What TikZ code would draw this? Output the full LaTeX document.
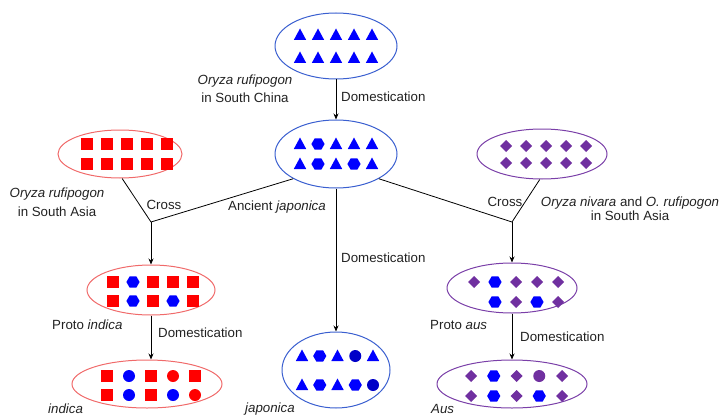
\documentclass[tikz,border=0pt]{standalone}
\usepackage{fontspec}
\setmainfont{Liberation Sans}
\usetikzlibrary{shapes.geometric,arrows.meta}
\definecolor{sblue}{HTML}{0000FF}
\definecolor{sdblue}{HTML}{0000C8}
\definecolor{sred}{HTML}{FF0000}
\definecolor{spurp}{HTML}{7030A0}
\definecolor{eblue}{HTML}{3A5FD0}
\definecolor{ered}{HTML}{F06A6A}
\definecolor{epurp}{HTML}{7A3FA8}
\definecolor{txt}{HTML}{222222}
\newcommand\symrow[4]{\foreach \t/\c [count=\i from 0] in {#4} {\pic[color=\c] at ({#1+#2*\i},#3) {\t};}}
\begin{document}
\begin{tikzpicture}[x=1pt,y=-1pt,
  ell/.style={draw=#1, ellipse, line width=1pt, inner sep=0pt},
  arr/.style={-{Stealth[length=6pt,width=5pt]}, line width=0.8pt},
  lin/.style={line width=0.8pt},
  lab/.style={font=\fontsize{13.3}{15}\selectfont, text=txt, inner sep=0pt},
  tri/.pic={\fill (0,-6.5) -- (6.2,5) -- (-6.2,5) -- cycle;},
  hex/.pic={\fill (0:6.6) -- (60:6.6) -- (120:6.6) -- (180:6.6) -- (240:6.6) -- (300:6.6) -- cycle;},
  sq/.pic={\fill (-6,-6) rectangle (6,6);},
  dia/.pic={\fill (0,-6) -- (6,0) -- (0,6) -- (-6,0) -- cycle;},
  circ/.pic={\fill (0,0) circle (6);},
  none/.pic={}]
\useasboundingbox (0,0) rectangle (722,417);

% ellipses
\node[ell=eblue, minimum width=122pt, minimum height=66pt] (wild) at (336,46) {};
\node[ell=eblue, minimum width=122pt, minimum height=68pt] (anc) at (336,154) {};
\node[ell=ered, minimum width=124pt, minimum height=48pt] (rsa) at (120,154) {};
\node[ell=epurp, minimum width=130pt, minimum height=50pt] (nsa) at (542,154) {};
\node[ell=ered, minimum width=128pt, minimum height=50pt] (pind) at (151,290) {};
\node[ell=epurp, minimum width=130pt, minimum height=50pt] (paus) at (512,288) {};
\node[ell=ered, minimum width=150pt, minimum height=48pt] (ind) at (147,384) {};
\node[ell=eblue, minimum width=108pt, minimum height=76pt] (jap) at (336,370) {};
\node[ell=epurp, minimum width=150pt, minimum height=48pt] (aus) at (512,384) {};

% symbols
\symrow{300}{18}{35}{tri/sblue,tri/sblue,tri/sblue,tri/sblue,tri/sblue}
\symrow{300}{18}{58}{tri/sblue,tri/sblue,tri/sblue,tri/sblue,tri/sblue}
\symrow{300}{18}{144}{tri/sblue,hex/sblue,tri/sblue,tri/sblue,tri/sblue}
\symrow{300}{18}{164}{tri/sblue,hex/sblue,tri/sblue,hex/sblue,tri/sblue}
\symrow{87}{20}{144}{sq/sred,sq/sred,sq/sred,sq/sred,sq/sred}
\symrow{87}{20}{164}{sq/sred,sq/sred,sq/sred,sq/sred,sq/sred}
\symrow{506}{20}{146}{dia/spurp,dia/spurp,dia/spurp,dia/spurp,dia/spurp}
\symrow{506}{20}{163}{dia/spurp,dia/spurp,dia/spurp,dia/spurp,dia/spurp}
\symrow{113}{20}{282}{sq/sred,hex/sblue,sq/sred,sq/sred,sq/sred}
\symrow{113}{20}{301}{sq/sred,hex/sblue,sq/sred,hex/sblue,sq/sred}
\symrow{474}{21}{282}{dia/spurp,hex/sblue,dia/spurp,dia/spurp,dia/spurp}
\symrow{474}{21}{302}{none/sblue,hex/sblue,dia/spurp,hex/sblue,dia/spurp}
\symrow{107}{22}{376}{sq/sred,circ/sblue,sq/sred,circ/sred,sq/sred}
\symrow{107}{22}{395}{sq/sred,circ/sblue,sq/sred,circ/sblue,circ/sred}
\symrow{302}{17.75}{356}{tri/sblue,hex/sblue,tri/sblue,circ/sdblue,tri/sblue}
\symrow{302}{17.75}{385}{tri/sblue,hex/sblue,tri/sblue,hex/sblue,circ/sdblue}
\symrow{471}{22.75}{376}{dia/spurp,hex/sblue,dia/spurp,circ/spurp,dia/spurp}
\symrow{471}{22.75}{396}{dia/spurp,hex/sblue,dia/spurp,hex/sblue,dia/spurp}

% junctions
\coordinate (jL) at (151,222);
\coordinate (jR) at (512,222);

% connectors
\draw[arr] (wild) -- (anc);
\draw[lin] (rsa.-85) -- (jL) -- (anc.210);
\draw[lin] (nsa.-95) -- (jR) -- (anc.-30);
\draw[arr] (jL) -- (jL |- pind.north);
\draw[arr] (jR) -- (jR |- paus.north);
\draw[arr] (anc) -- (jap);
\draw[arr] (pind.south) -- (pind.south |- ind.north);
\draw[arr] (paus.south) -- (paus.south |- aus.north);

% labels
\node[lab, align=center] (l1) at (245,89) {\textit{Oryza rufipogon}\\[3pt]in South China};
\node[lab, anchor=west] (l2) at (341,97) {Domestication};
\node[lab, align=center] (l3) at (57,202) {\textit{Oryza rufipogon}\\[4pt]in South Asia};
\node[lab] (l4) at (164,205) {Cross};
\node[lab, anchor=west] (l5) at (228,207) {Ancient \textit{japonica}};
\node[lab] (l6) at (505,202) {Cross};
\node[lab, align=center] (l7) at (630,209) {\textit{Oryza nivara} and \textit{O. rufipogon}\\[-1pt]in South Asia};
\node[lab, anchor=west] (l8) at (341,258) {Domestication};
\node[lab, anchor=west] (l9) at (52,325) {Proto \textit{indica}};
\node[lab, anchor=west] (l10) at (158,333) {Domestication};
\node[lab, anchor=west] (l11) at (430,325) {Proto \textit{aus}};
\node[lab, anchor=west] (l12) at (520,337) {Domestication};
\node[lab, anchor=west] (l13) at (48,409) {\textit{indica}};
\node[lab, anchor=west] (l14) at (245,409) {\textit{japonica}};
\node[lab, anchor=west] (l15) at (431,409) {\textit{Aus}};
\end{tikzpicture}
\end{document}
